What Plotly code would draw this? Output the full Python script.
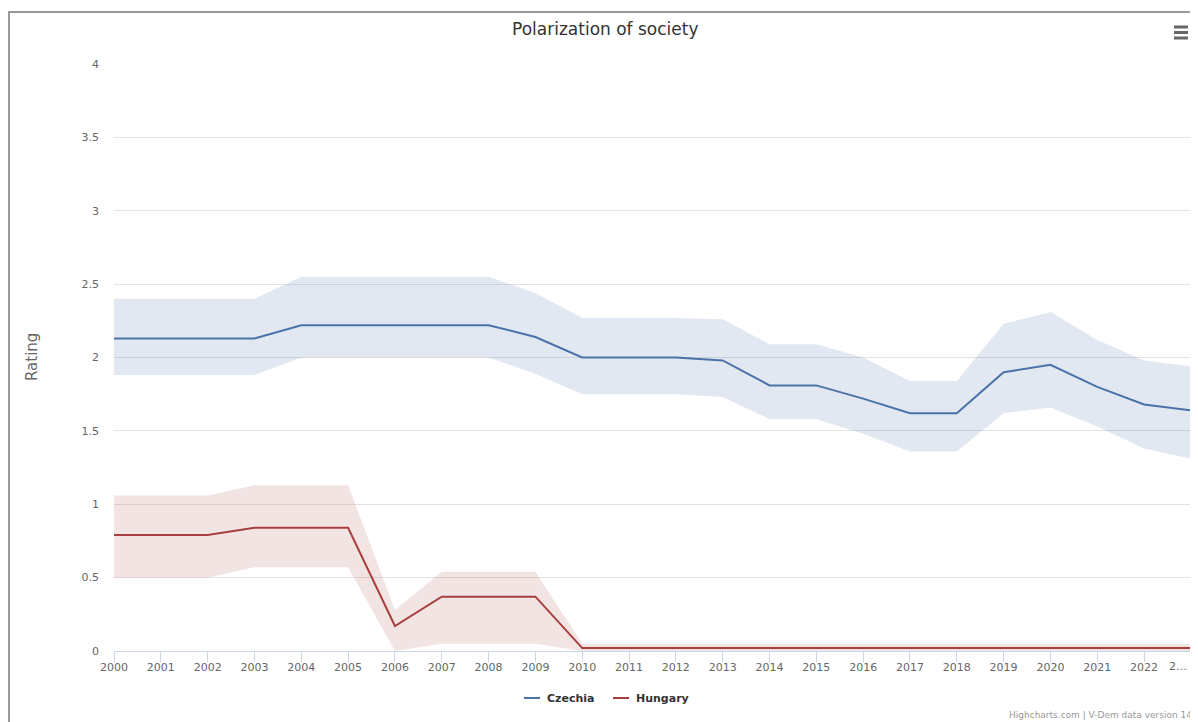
import plotly.graph_objects as go

years = list(range(2000, 2024))
year_labels = [str(y) for y in years[:-1]] + [""]
last_label = "2…"

czechia = [2.13, 2.13, 2.13, 2.13, 2.22, 2.22, 2.22, 2.22, 2.22, 2.14,
           2.00, 2.00, 2.00, 1.98, 1.81, 1.81, 1.72, 1.62, 1.62, 1.90,
           1.95, 1.80, 1.68, 1.64]
czechia_high = [2.40, 2.40, 2.40, 2.40, 2.55, 2.55, 2.55, 2.55, 2.55, 2.44,
                2.27, 2.27, 2.27, 2.26, 2.09, 2.09, 2.00, 1.84, 1.84, 2.23,
                2.31, 2.12, 1.98, 1.94]
czechia_low = [1.88, 1.88, 1.88, 1.88, 2.00, 2.00, 2.00, 2.00, 2.00, 1.89,
               1.75, 1.75, 1.75, 1.73, 1.58, 1.58, 1.48, 1.36, 1.36, 1.62,
               1.66, 1.53, 1.38, 1.31]

hungary = [0.79, 0.79, 0.79, 0.84, 0.84, 0.84, 0.17, 0.37, 0.37, 0.37,
           0.02, 0.02, 0.02, 0.02, 0.02, 0.02, 0.02, 0.02, 0.02, 0.02,
           0.02, 0.02, 0.02, 0.02]
hungary_high = [1.06, 1.06, 1.06, 1.13, 1.13, 1.13, 0.28, 0.54, 0.54, 0.54,
                0.05, 0.05, 0.05, 0.05, 0.05, 0.05, 0.05, 0.05, 0.05, 0.05,
                0.05, 0.05, 0.05, 0.05]
hungary_low = [0.50, 0.50, 0.50, 0.57, 0.57, 0.57, 0.00, 0.05, 0.05, 0.05,
               0.00, 0.00, 0.00, 0.00, 0.00, 0.00, 0.00, 0.00, 0.00, 0.00,
               0.00, 0.00, 0.00, 0.00]

series = [
    ("Czechia", czechia, czechia_low, czechia_high, "#4a72a8", "rgba(74,114,168,0.16)"),
    ("Hungary", hungary, hungary_low, hungary_high, "#a83e3e", "rgba(168,62,62,0.14)"),
]

FONT = "DejaVu Sans"
fig = go.Figure()

for name, vals, lo, hi, col, fillcol in series:
    fig.add_trace(go.Scatter(
        x=years + years[::-1], y=hi + lo[::-1], fill="toself",
        fillcolor=fillcol, line=dict(width=0), mode="lines",
        showlegend=False, hoverinfo="skip"))

for name, vals, lo, hi, col, fillcol in series:
    fig.add_trace(go.Scatter(
        x=years, y=vals, mode="lines", name=name, showlegend=False,
        line=dict(color=col, width=2)))

# page body has an 8px margin; coordinates below are screen pixels
OX, OY = 8, 8
W, H = 1198 - OX, 722 - OY
PL, PR, PT, PB = 114, 1191, 64, 651  # plot area in screen pixels
L, R, T, B = PL - OX, (W + OX) - PR, PT - OY, (H + OY) - PB
pw, ph = PR - PL, PB - PT

def px(x):
    return (x - PL) / pw

def py(y):
    return (PB - y) / ph

shapes = [
    dict(type="rect", xref="paper", yref="paper",
         x0=px(9), x1=px(1215), y0=py(12), y1=py(745),
         line=dict(color="#999999", width=2), fillcolor="rgba(0,0,0,0)"),
]
for yy in (27, 32.5, 38):
    shapes.append(dict(type="line", xref="paper", yref="paper",
                       x0=px(1174), x1=px(1188), y0=py(yy), y1=py(yy),
                       line=dict(color="#666666", width=3)))

annotations = [
    dict(text="Polarization of society", xref="paper", yref="paper",
         x=px(605), y=py(29), showarrow=False,
         font=dict(family=FONT, size=17, color="#333333"),
         xanchor="center", yanchor="middle"),
    dict(text="Rating", xref="paper", yref="paper", x=px(32), y=py(357),
         showarrow=False, textangle=-90,
         font=dict(family=FONT, size=15, color="#666666"),
         xanchor="center", yanchor="middle"),
    dict(text="Highcharts.com | V-Dem data version 14", xref="paper", yref="paper",
         x=px(1194), y=py(715), showarrow=False,
         font=dict(family=FONT, size=9, color="#999999"),
         xanchor="right", yanchor="middle"),
    dict(text=last_label, xref="x", yref="paper", x=years[-1], xshift=-2,
         y=py(666), showarrow=False,
         font=dict(family=FONT, size=11, color="#666666"),
         xanchor="right", yanchor="middle"),
]

# custom legend (short line symbols as in the reference)
legend_x = [(524, 545), (613, 634)]
for (name, vals, lo, hi, col, fillcol), (lx, tx) in zip(series, legend_x):
    shapes.append(dict(type="line", xref="paper", yref="paper",
                       x0=px(lx), x1=px(lx + 16), y0=py(698), y1=py(698),
                       line=dict(color=col, width=2)))
    annotations.append(dict(text="<b>" + name + "</b>", xref="paper", yref="paper",
                            x=px(tx), y=py(698), showarrow=False,
                            font=dict(family=FONT, size=11, color="#333333"),
                            xanchor="left", yanchor="middle"))

fig.update_layout(
    width=W, height=H,
    margin=dict(l=L, r=R, t=T, b=B, autoexpand=False),
    paper_bgcolor="white", plot_bgcolor="white",
    font=dict(family=FONT, color="#666666"),
    shapes=shapes, annotations=annotations,
    showlegend=False,
    xaxis=dict(range=[2000, 2023.002], tickmode="array", tickvals=years,
               ticktext=year_labels, showgrid=False, zeroline=False,
               showline=True, linecolor="#ccd6eb", linewidth=1,
               ticks="outside", ticklen=10, tickcolor="#ccd6eb",
               ticklabelstandoff=-4,
               tickfont=dict(family=FONT, size=11, color="#666666"),
               fixedrange=True),
    yaxis=dict(range=[0, 4], dtick=0.5, showgrid=True, gridcolor="#e3e3e3",
               gridwidth=1, zeroline=False, showline=False,
               ticklabelstandoff=14,
               tickfont=dict(family=FONT, size=11, color="#666666"),
               fixedrange=True),
    hovermode="x unified",
)

fig.write_html("out.html")
